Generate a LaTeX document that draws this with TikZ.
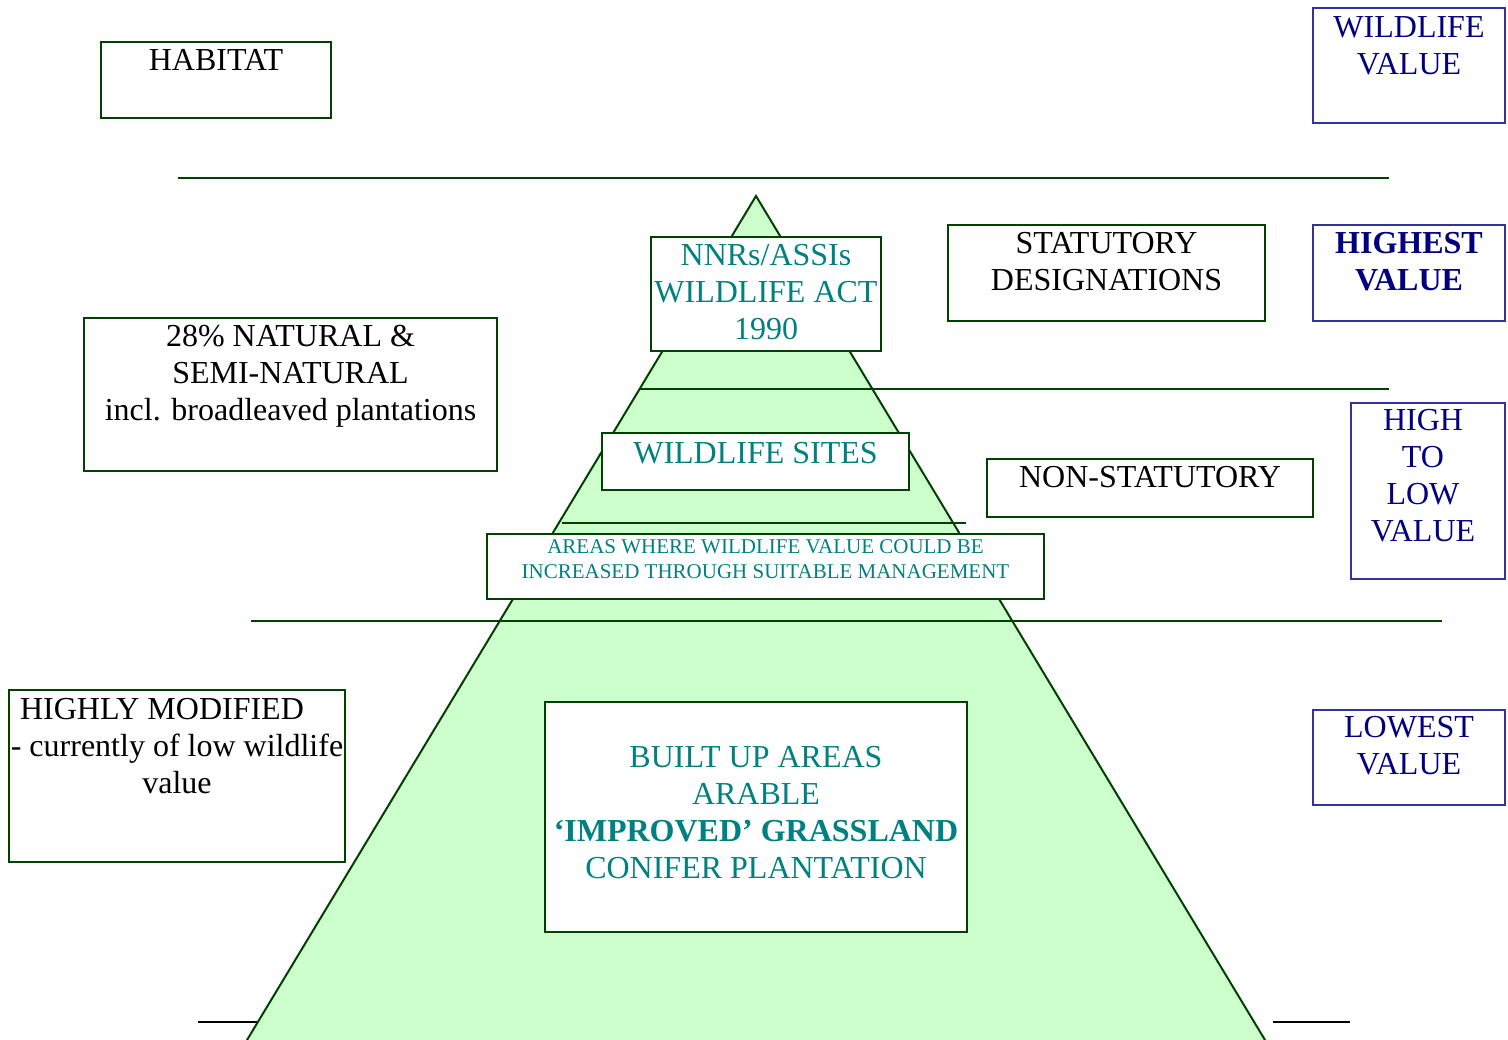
\documentclass[tikz,border=0pt]{standalone}
\usepackage{fontspec}
\setmainfont{Liberation Serif}
\usepackage{xcolor}
\usepackage{tikz}
\usetikzlibrary{positioning}

\definecolor{framegreen}{RGB}{0,64,0}
\definecolor{pyramidfill}{RGB}{204,255,204}
\definecolor{siteteal}{RGB}{0,128,128}
\definecolor{valuenavy}{RGB}{0,0,128}
\definecolor{valueframe}{RGB}{51,51,160}

\begin{document}
\begin{tikzpicture}[
    x=1pt, y=-1pt,
    panel/.style={rectangle, draw=framegreen, fill=white, line width=2pt, anchor=north west, inner sep=0pt},
    valuepanel/.style={panel, draw=valueframe},
    caption/.style={inner sep=0pt, align=center, font=\fontsize{32}{37}\selectfont},
    divider/.style={draw=framegreen, line width=1.5pt}
]
\useasboundingbox (0,0) rectangle (1508,1040);

% Pyramid
\coordinate (apex) at (756,196);
\coordinate (baseL) at (245.8,1042);
\coordinate (baseR) at (1266.2,1042);
\fill[pyramidfill] (apex) -- (baseL) -- (baseR) -- cycle;
\draw[framegreen, line width=2pt] (baseL) -- (apex) -- (baseR);

% Lines
\draw[divider] (178,178) -- (1389,178);
\draw[divider] (640,389) -- (1389,389);
\draw[divider] (562,523) -- (966,523);
\draw[divider] (251,621) -- (1442,621);
\draw[line width=2pt] (198,1022) -- (257,1022);
\draw[line width=2pt] (1273,1022) -- (1350,1022);

% Nodes
\node[panel, minimum width=230pt, minimum height=76pt] (habitat) at (100,41) {};
\node[caption, below=8pt of habitat.north] (habitattext) {HABITAT};

\node[valuepanel, minimum width=192pt, minimum height=115pt] (wildval) at (1312,7) {};
\node[caption, text=valuenavy, below=9pt of wildval.north] (wildvaltext) {WILDLIFE\\VALUE};

\node[panel, minimum width=230pt, minimum height=114pt] (nnrs) at (650,236) {};
\node[caption, text=siteteal, below=8pt of nnrs.north] (nnrstext) {NNRs/ASSIs\\WILDLIFE ACT\\1990};

\node[panel, minimum width=317pt, minimum height=96pt] (statutory) at (947,224) {};
\node[caption, below=8pt of statutory.north] (statutorytext) {STATUTORY\\DESIGNATIONS};

\node[valuepanel, minimum width=192pt, minimum height=96pt] (highest) at (1312,224) {};
\node[caption, text=valuenavy, font=\fontsize{32}{37}\selectfont\bfseries, below=8pt of highest.north] (highesttext) {HIGHEST\\VALUE};

\node[panel, minimum width=413pt, minimum height=153pt] (natural) at (83,317) {};
\node[caption, below=8pt of natural.north] (naturaltext) {28\% NATURAL \&\\SEMI-NATURAL\\incl. broadleaved plantations};

\node[panel, minimum width=307pt, minimum height=57pt] (sites) at (601,432) {};
\node[caption, text=siteteal, below=10pt of sites.north] (sitestext) {WILDLIFE SITES};

\node[panel, minimum width=326pt, minimum height=58pt] (nonstat) at (986,458) {};
\node[caption, below=8pt of nonstat.north] (nonstattext) {NON-STATUTORY};

\node[valuepanel, minimum width=154pt, minimum height=176pt] (hightolow) at (1350,402) {};
\node[caption, text=valuenavy, below=7pt of hightolow.north, xshift=-5pt] (hightolowtext) {HIGH\\TO\\LOW\\VALUE};

\node[panel, minimum width=557pt, minimum height=65pt] (areas) at (486,533) {};
\node[caption, text=siteteal, font=\fontsize{21}{25}\selectfont, below=6pt of areas.north] (areastext) {AREAS WHERE WILDLIFE VALUE COULD BE\\INCREASED THROUGH SUITABLE MANAGEMENT};

\node[panel, minimum width=336pt, minimum height=172pt] (modified) at (8,689) {};
\node[caption, below=9pt of modified.north] (modifiedtext) {HIGHLY MODIFIED\hspace*{30pt}\\- currently of low wildlife\\value};

\node[panel, minimum width=422pt, minimum height=230pt] (builtup) at (544,701) {};
\node[caption, text=siteteal, below=45pt of builtup.north] (builtuptext) {BUILT UP AREAS\\ARABLE\\\textbf{‘IMPROVED’ GRASSLAND}\\CONIFER PLANTATION};

\node[valuepanel, minimum width=192pt, minimum height=95pt] (lowest) at (1312,709) {};
\node[caption, text=valuenavy, below=7pt of lowest.north] (lowesttext) {LOWEST\\VALUE};

\end{tikzpicture}
\end{document}
